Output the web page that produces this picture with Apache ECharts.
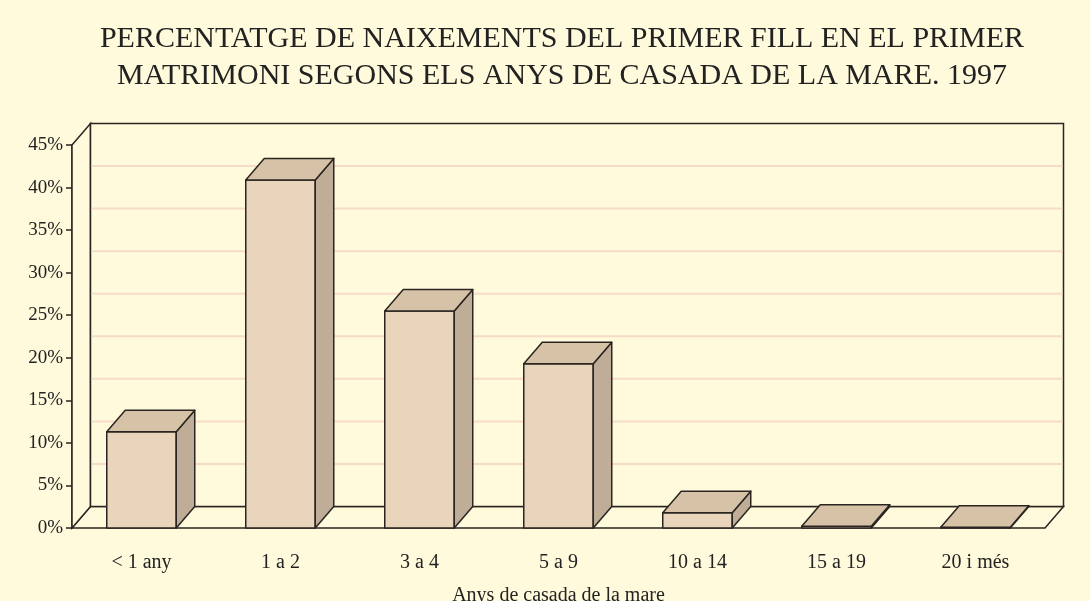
<!DOCTYPE html>
<html>
<head>
<meta charset="utf-8">
<script src="https://cdn.jsdelivr.net/npm/echarts@6/dist/echarts.min.js"></script>
<style>
  html, body { margin: 0; background: #fffadc; }
  #chart { width: 1090px; height: 601px; }
</style>
</head>
<body>
<div id="chart"></div>
<script>
const categories = ['< 1 any', '1 a 2', '3 a 4', '5 a 9', '10 a 14', '15 a 19', '20 i més']
const percentages = [11.3, 40.9, 25.5, 19.3, 1.8, 0.2, 0.1]
const yMax = 45
const yStep = 5

// profunditat de l'efecte 3D (px)
const DX = 18.5
const DY = 21.5
const LINE = '#2a2520'
const FONT = 'Liberation Serif'

const chart = echarts.init(document.getElementById('chart'))

// parets i terra
const renderFrame = (params, api) => {
  const cs = params.coordSys
  const x0 = cs.x, x1 = cs.x + cs.width
  const y0 = cs.y, y1 = cs.y + cs.height
  const children = [
    // terra
    { type: 'polygon', shape: { points: [[x0, y1], [x1, y1], [x1 + DX, y1 - DY], [x0 + DX, y1 - DY]] },
      style: { fill: '#fffadc', stroke: LINE, lineWidth: 1.5 } },
    // paret esquerra
    { type: 'polygon', shape: { points: [[x0, y0], [x0 + DX, y0 - DY], [x0 + DX, y1 - DY], [x0, y1]] },
      style: { fill: '#fffadc', stroke: LINE, lineWidth: 1.5 } },
    // paret del fons
    { type: 'rect', shape: { x: x0 + DX, y: y0 - DY, width: cs.width, height: cs.height },
      style: { fill: '#fffadc', stroke: LINE, lineWidth: 1.5 } },
  ]
  for (let v = yStep; v < yMax; v += yStep) {
    const y = api.coord([0, v])[1] - DY
    children.push({ type: 'line', shape: { x1: x0 + DX + 1, y1: y, x2: x1 + DX - 1, y2: y },
      style: { stroke: '#f6dcc8', lineWidth: 2 } })
  }
  return { type: 'group', children }
}

// barres 3D
const renderBar = (params, api) => {
  const top = api.coord([api.value(0), api.value(1)])
  const base = api.coord([api.value(0), 0])
  const w = api.size([1, 0])[0] * 0.5
  const xl = top[0] - w / 2, xr = top[0] + w / 2
  const yt = top[1], yb = base[1]
  const st = { stroke: LINE, lineWidth: 1.5, lineJoin: 'round' }
  return {
    type: 'group',
    children: [
      { type: 'rect', shape: { x: xl, y: yt, width: w, height: yb - yt }, style: { ...st, fill: '#e9d5bc' } },
      { type: 'polygon', shape: { points: [[xr, yt], [xr + DX, yt - DY], [xr + DX, yb - DY], [xr, yb]] },
        style: { ...st, fill: '#bfad97' } },
      { type: 'polygon', shape: { points: [[xl, yt], [xr, yt], [xr + DX, yt - DY], [xl + DX, yt - DY]] },
        style: { ...st, fill: '#d6c2a6' } },
    ],
  }
}

const options = {
  backgroundColor: '#fffadc',
  animation: false,
  title: {
    text: 'PERCENTATGE DE NAIXEMENTS DEL PRIMER FILL EN EL PRIMER\nMATRIMONI SEGONS ELS ANYS DE CASADA DE LA MARE. 1997',
    left: 557,
    textAlign: 'center',
    top: 16,
    textStyle: { fontFamily: FONT, fontSize: 30, fontWeight: 'normal', color: '#222', lineHeight: 37 },
  },
  grid: { left: 72, right: 45, top: 145, bottom: 73, outerBoundsMode: 'none', containLabel: false },
  xAxis: {
    type: 'category',
    data: categories,
    name: 'Anys de casada de la mare',
    nameLocation: 'middle',
    nameGap: 58,
    nameTextStyle: { fontFamily: FONT, fontSize: 20, color: '#222' },
    axisLine: { show: false },
    axisTick: { show: false },
    axisLabel: { fontFamily: FONT, fontSize: 20, color: '#222', margin: 25 },
    splitLine: { show: false },
  },
  yAxis: {
    type: 'value',
    min: 0,
    max: yMax,
    interval: yStep,
    axisLine: { show: true, lineStyle: { color: LINE, width: 1.5 } },
    axisTick: { show: true, length: 6, lineStyle: { color: LINE, width: 1.5 } },
    axisLabel: { fontFamily: FONT, fontSize: 19, color: '#222', margin: 9, formatter: '{value}%' },
    splitLine: { show: false },
  },
  series: [
    { type: 'custom', z: 1, renderItem: renderFrame, data: [[0, 0]], silent: true },
    {
      type: 'custom',
      z: 5,
      renderItem: renderBar,
      encode: { x: 0, y: 1 },
      data: percentages.map((v, i) => [i, v]),
    },
  ],
}

chart.setOption(options)
</script>
</body>
</html>
